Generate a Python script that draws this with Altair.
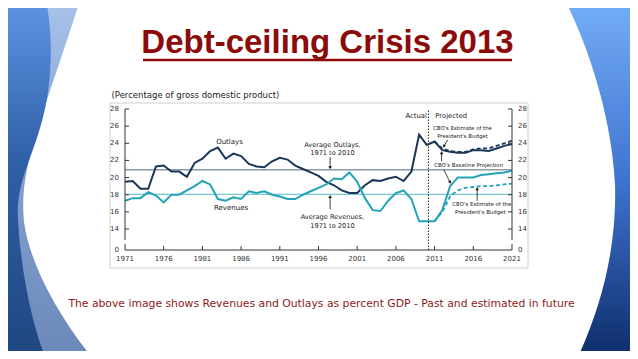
import altair as alt
import pandas as pd

# ---------------- data ----------------
years_actual = list(range(1971, 2011))
outlays_actual = [19.5, 19.6, 18.7, 18.7, 21.3, 21.4, 20.7, 20.7, 20.1, 21.7,
                  22.2, 23.1, 23.5, 22.2, 22.8, 22.5, 21.6, 21.3, 21.2, 21.9,
                  22.3, 22.1, 21.4, 21.0, 20.6, 20.2, 19.5, 19.1, 18.5, 18.2,
                  18.2, 19.1, 19.7, 19.6, 19.9, 20.1, 19.6, 20.7, 25.0, 23.8]
revenues_actual = [17.3, 17.6, 17.6, 18.3, 17.9, 17.1, 18.0, 18.0, 18.5, 19.0,
                   19.6, 19.2, 17.5, 17.3, 17.7, 17.5, 18.4, 18.2, 18.4, 18.0,
                   17.8, 17.5, 17.5, 18.0, 18.4, 18.8, 19.2, 19.9, 19.8, 20.6,
                   19.5, 17.6, 16.2, 16.1, 17.3, 18.2, 18.5, 17.5, 14.9, 14.9]
years_proj = list(range(2010, 2022))
outlays_baseline = [23.8, 24.2, 23.2, 23.0, 22.9, 22.9, 23.2, 23.2, 23.1, 23.4, 23.7, 23.9]
outlays_president = [23.8, 24.2, 23.4, 23.1, 23.0, 23.0, 23.3, 23.4, 23.4, 23.7, 24.0, 24.3]
revenues_baseline = [14.9, 14.9, 16.2, 19.0, 20.0, 20.0, 20.0, 20.3, 20.4, 20.5, 20.6, 20.8]
revenues_president = [14.9, 14.9, 16.0, 17.8, 18.5, 18.8, 18.9, 19.0, 19.0, 19.1, 19.2, 19.3]

average_series = ["Outlays", "Revenues"]
average_values = [20.9, 18.05]
split_year = [2010.2]

x_tick_years = [1971, 1976, 1981, 1986, 1991, 1996, 2001, 2006, 2011, 2016, 2021]
y_tick_values = [0, 14, 16, 18, 20, 22, 24, 26, 28]
axis_break = [4.0, 6.7]

ann_labels = ["Outlays", "Revenues",
              "Average Outlays,", "1971 to 2010",
              "Average Revenues,", "1971 to 2010",
              "CBO's Estimate of the", "President's Budget",
              "CBO's Baseline Projection",
              "CBO's Estimate of the", "President's Budget"]
ann_x = [1984.5, 1984.7, 1997.8, 1997.8, 1997.8, 1997.8,
         2014.6, 2014.6, 2015.4, 2017.1, 2016.9]
ann_y = [24.15, 16.45, 23.8, 22.9, 15.45, 14.4,
         25.8, 24.85, 21.45, 16.95, 16.0]
ann_size = [7, 7, 6.6, 6.6, 6.6, 6.6, 5.4, 5.4, 5.4, 5.4, 5.4]

phase_labels = ["Actual", "Projected"]
phase_x = [2010.0, 2011.1]
phase_y = [27.2, 27.2]

arrow_x1 = [1997.5, 1997.5, 2012.7, 2011.9, 2012.2, 2016.5]
arrow_y1 = [22.4, 16.3, 24.4, 21.9, 20.9, 17.3]
arrow_x2 = [1997.5, 1997.5, 2012.2, 2011.9, 2013.0, 2016.5]
arrow_y2 = [21.15, 17.8, 23.65, 22.9, 19.45, 18.7]
arrow_angle = [180, 0, 209, 0, 154, 0]

# ---------------- tables ----------------
solid = pd.concat([
    pd.DataFrame({"year": years_actual + years_proj[1:],
                  "value": outlays_actual + outlays_baseline[1:], "series": "Outlays"}),
    pd.DataFrame({"year": years_actual + years_proj[1:],
                  "value": revenues_actual + revenues_baseline[1:], "series": "Revenues"}),
])
dashed = pd.concat([
    pd.DataFrame({"year": years_proj[1:], "value": outlays_president[1:], "series": "Outlays"}),
    pd.DataFrame({"year": years_proj[1:], "value": revenues_president[1:], "series": "Revenues"}),
])
avg_df = pd.DataFrame({"series": average_series, "avg": average_values,
                       "x0": x_tick_years[0], "x1": x_tick_years[-1]})
split_df = pd.DataFrame({"year": split_year, "lo": y_tick_values[0], "hi": y_tick_values[-1]})
seg_df = pd.DataFrame({
    "x": [x_tick_years[0], x_tick_years[0], x_tick_years[-1], x_tick_years[-1]],
    "lo": [y_tick_values[0], axis_break[1], y_tick_values[0], axis_break[1]],
    "hi": [axis_break[0], y_tick_values[-1], axis_break[0], y_tick_values[-1]],
})
base_df = pd.DataFrame({"x0": [x_tick_years[0]], "x1": [x_tick_years[-1]],
                        "y": [y_tick_values[0]]})
ytick_df = pd.DataFrame({"y": y_tick_values, "label": [str(v) for v in y_tick_values]})
ytick_df["xl"] = x_tick_years[0]
ytick_df["xr"] = x_tick_years[-1]
xtick_df = pd.DataFrame({"x": x_tick_years, "label": [str(v) for v in x_tick_years]})
xtick_df["y"] = y_tick_values[0]
ann_df = pd.DataFrame({"label": ann_labels, "x": ann_x, "y": ann_y, "fs": ann_size})
phase_df = pd.DataFrame({"label": phase_labels, "x": phase_x, "y": phase_y})
arrow_df = pd.DataFrame({"x1": arrow_x1, "y1": arrow_y1, "x2": arrow_x2,
                         "y2": arrow_y2, "ang": arrow_angle})
one = pd.DataFrame({"k": [0]})

# ---------------- scales / styles ----------------
NAVY = "#1b3658"
TEAL = "#22a3b8"
DARKRED = "#8c0a0a"
AX = "#333333"
W, H = 387, 141
OX, OY = 125, 109  # page position of plot origin

xs = alt.Scale(domain=[x_tick_years[0], x_tick_years[-1]], nice=False, zero=False)
ys = alt.Scale(domain=[0, 14, 28], range=[H, 120, 0], nice=False, zero=False)
cs = alt.Scale(domain=average_series, range=[NAVY, TEAL])


def X(f):
    return alt.X(f, scale=xs, axis=None)


def Y(f):
    return alt.Y(f, scale=ys, axis=None)


def grad(stops):
    return alt.LinearGradient(gradient="linear", x1=0, y1=0, x2=0, y2=1,
                              stops=[alt.GradientStop(offset=o, color=c) for o, c in stops])


# ---------------- decoration (slide chrome) ----------------
left_outer = ("M0,0 L80,0 C66,45 48,95 34,140 C27,168 21,190 24,222 "
              "C30,265 58,315 93,359 L0,359 Z")
left_inner = ("M0,0 L46,0 C54,40 52,90 40,128 C31,160 16,185 18,218 "
              "C20,262 30,320 46,359 L0,359 Z")
right_shape = ("M565,0 C590,50 612,120 615,185 C617,250 600,310 577,359 "
               "L640,359 L640,0 Z")


def deco(path, stops):
    return alt.Chart(one).mark_point(shape=path, size=4, filled=True, opacity=1,
                                     strokeWidth=0, fill=grad(stops)).encode(
        x=alt.value(-OX), y=alt.value(-OY))


deco_l1 = deco(left_outer, [(0, "#a8c3ea"), (0.5, "#7f9fd0"), (1, "#6c88b8")])
deco_l2 = deco(left_inner, [(0, "#5d96e4"), (0.45, "#2f5fa6"), (1, "#1f4680")])
deco_r = deco(right_shape, [(0, "#74adf6"), (0.5, "#3f74d0"), (1, "#0d2c69")])

box = alt.Chart(one).mark_rect(fill="white", stroke="#cfcfcf", strokeWidth=1).encode(
    x=alt.value(110 - OX), x2=alt.value(528 - OX),
    y=alt.value(103 - OY), y2=alt.value(268 - OY))

# ---------------- chart layers ----------------
avg_rules = alt.Chart(avg_df).mark_rule(strokeWidth=0.9, opacity=0.85).encode(
    x=X("x0:Q"), x2="x1:Q", y=Y("avg:Q"),
    color=alt.Color("series:N", scale=cs, legend=None))

solid_lines = alt.Chart(solid).mark_line(strokeWidth=2).encode(
    x=X("year:Q"), y=Y("value:Q"),
    color=alt.Color("series:N", scale=cs, legend=None))

dashed_lines = alt.Chart(dashed).mark_line(strokeWidth=1.8, strokeDash=[4, 2.5]).encode(
    x=X("year:Q"), y=Y("value:Q"),
    color=alt.Color("series:N", scale=cs, legend=None))

split = alt.Chart(split_df).mark_rule(color="#222", strokeWidth=1, strokeDash=[1.5, 1.5]).encode(
    x=X("year:Q"), y=Y("lo:Q"), y2="hi:Q")

# axes drawn from the tick lists
segs = alt.Chart(seg_df).mark_rule(color=AX, strokeWidth=1).encode(
    x=X("x:Q"), y=Y("lo:Q"), y2="hi:Q")
baseline = alt.Chart(base_df).mark_rule(color=AX, strokeWidth=1).encode(
    x=X("x0:Q"), x2="x1:Q", y=Y("y:Q"))
ytk = ytick_df[ytick_df["y"] > y_tick_values[0]]
lticks = alt.Chart(ytk).mark_rule(color=AX, strokeWidth=1, x2Offset=4).encode(
    x=X("xl:Q"), x2="xl:Q", y=Y("y:Q"))
rticks = alt.Chart(ytk).mark_rule(color=AX, strokeWidth=1, x2Offset=-4).encode(
    x=X("xr:Q"), x2="xr:Q", y=Y("y:Q"))
xtk = xtick_df.iloc[1:-1]
bticks = alt.Chart(xtk).mark_rule(color=AX, strokeWidth=1, y2Offset=-4).encode(
    x=X("x:Q"), y=Y("y:Q"), y2="y:Q")
llabels = alt.Chart(ytick_df).mark_text(font="DejaVu Sans", fontSize=7, color=AX,
                                        align="right", baseline="middle", dx=-6).encode(
    x=X("xl:Q"), y=Y("y:Q"), text="label:N")
rlabels = alt.Chart(ytick_df).mark_text(font="DejaVu Sans", fontSize=7, color=AX,
                                        align="left", baseline="middle", dx=6).encode(
    x=X("xr:Q"), y=Y("y:Q"), text="label:N")
xlabels = alt.Chart(xtick_df).mark_text(font="DejaVu Sans", fontSize=7, color=AX,
                                        align="center", baseline="middle", dy=9).encode(
    x=X("x:Q"), y=Y("y:Q"), text="label:N")

arrows = alt.Chart(arrow_df).mark_rule(color="#111", strokeWidth=0.8).encode(
    x=X("x1:Q"), x2="x2:Q", y=Y("y1:Q"), y2="y2:Q")
heads = alt.Chart(arrow_df).mark_point(shape="triangle-up", filled=True, size=12,
                                       color="#111", opacity=1).encode(
    x=X("x2:Q"), y=Y("y2:Q"), angle=alt.Angle("ang:Q", scale=None))

ann = alt.Chart(ann_df).mark_text(font="DejaVu Sans", color="#222", align="center",
                                  baseline="middle").encode(
    x=X("x:Q"), y=Y("y:Q"), text="label:N", size=alt.Size("fs:Q", scale=None))

phase_r = alt.Chart(phase_df.iloc[[0]]).mark_text(font="DejaVu Sans", fontSize=6.8,
                                                  color="#222", align="right",
                                                  baseline="middle").encode(
    x=X("x:Q"), y=Y("y:Q"), text="label:N")
phase_l = alt.Chart(phase_df.iloc[[1]]).mark_text(font="DejaVu Sans", fontSize=6.8,
                                                  color="#222", align="left",
                                                  baseline="middle").encode(
    x=X("x:Q"), y=Y("y:Q"), text="label:N")

# ---------------- slide texts ----------------
title = alt.Chart(one).mark_text(text="Debt-ceiling Crisis 2013", font="Liberation Sans",
                                 fontWeight="bold", fontSize=33, color=DARKRED,
                                 align="center", baseline="alphabetic").encode(
    x=alt.value(327.5 - OX), y=alt.value(53 - OY))
underline = alt.Chart(one).mark_rule(color=DARKRED, strokeWidth=2.5).encode(
    x=alt.value(143 - OX), x2=alt.value(512 - OX), y=alt.value(60 - OY))
unit_note = alt.Chart(one).mark_text(text="(Percentage of gross domestic product)",
                                     font="DejaVu Sans", fontSize=8.5, color="#222",
                                     align="left", baseline="alphabetic").encode(
    x=alt.value(111.5 - OX), y=alt.value(98 - OY))
caption = alt.Chart(one).mark_text(
    text="The above image shows Revenues and Outlays as percent GDP - Past and estimated in future",
    font="DejaVu Sans", fontSize=10.8, color="#8b1a1a", align="center",
    baseline="alphabetic").encode(x=alt.value(321.5 - OX), y=alt.value(307 - OY))

chart = alt.layer(
    deco_l1, deco_l2, deco_r, box,
    avg_rules, solid_lines, dashed_lines, split,
    segs, baseline, lticks, rticks, bticks, llabels, rlabels, xlabels,
    arrows, heads, ann, phase_r, phase_l,
    title, underline, unit_note, caption,
).properties(
    width=W, height=H,
    autosize=alt.AutoSizeParams(type="none"),
    padding={"left": OX - 8, "top": OY - 8, "right": 638 - 16 - (OX - 8) - W,
             "bottom": 359 - 16 - (OY - 8) - H},
    background="white",
).configure_view(stroke=None)

chart.save("out.html", embed_options={"renderer": "svg", "actions": False})
